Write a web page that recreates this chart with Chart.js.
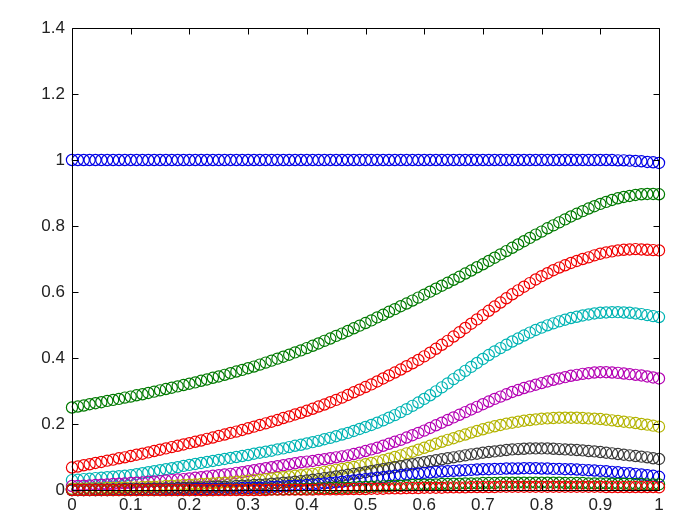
<!DOCTYPE html>
<html>
<head>
<meta charset="utf-8">
<script src="https://cdn.jsdelivr.net/npm/chart.js@4/dist/chart.umd.min.js"></script>
<style>
  html, body { margin: 0; padding: 0; background: #fff; }
  canvas { display: block; }
</style>
</head>
<body>
<canvas id="plot" width="687" height="515"></canvas>
<script>
const xs = [
  0, 0.01, 0.02, 0.03, 0.04, 0.05, 0.06, 0.07, 0.08, 0.09,
  0.1, 0.11, 0.12, 0.13, 0.14, 0.15, 0.16, 0.17, 0.18, 0.19,
  0.2, 0.21, 0.22, 0.23, 0.24, 0.25, 0.26, 0.27, 0.28, 0.29,
  0.3, 0.31, 0.32, 0.33, 0.34, 0.35, 0.36, 0.37, 0.38, 0.39,
  0.4, 0.41, 0.42, 0.43, 0.44, 0.45, 0.46, 0.47, 0.48, 0.49,
  0.5, 0.51, 0.52, 0.53, 0.54, 0.55, 0.56, 0.57, 0.58, 0.59,
  0.6, 0.61, 0.62, 0.63, 0.64, 0.65, 0.66, 0.67, 0.68, 0.69,
  0.7, 0.71, 0.72, 0.73, 0.74, 0.75, 0.76, 0.77, 0.78, 0.79,
  0.8, 0.81, 0.82, 0.83, 0.84, 0.85, 0.86, 0.87, 0.88, 0.89,
  0.9, 0.91, 0.92, 0.93, 0.94, 0.95, 0.96, 0.97, 0.98, 0.99,
  1
];

const yBlue1 = [
  1, 1, 1, 1, 1, 1, 1, 1, 1, 1,
  1, 1, 1, 1, 1, 1, 1, 1, 1, 1,
  1, 1, 1, 1, 1, 1, 1, 1, 1, 1,
  1, 1, 1, 1, 1, 1, 1, 1, 1, 1,
  1, 1, 1, 1, 1, 1, 1, 1, 1, 1,
  1, 1, 1, 1, 1, 1, 1, 1, 1, 1,
  1, 1, 1, 1, 1, 1, 1, 1, 1, 1,
  1, 1, 1, 1, 1, 1, 1, 1, 1, 1,
  1, 1, 1, 1, 1, 1, 1, 1, 1, 1,
  1, 1, 1, 0.999, 0.999, 0.998, 0.997, 0.996, 0.994, 0.993,
  0.991
];

const yGreen2 = [
  .250, .253, .256, .260, .263, .266, .270, .273, .276, .280,
  .283, .287, .290, .294, .298, .302, .306, .310, .314, .318,
  .322, .326, .331, .335, .340, .344, .349, .354, .359, .364,
  .369, .374, .380, .386, .392, .398, .404, .410, .417, .423,
  .430, .437, .444, .452, .459, .467, .474, .482, .490, .498,
  .506, .514, .523, .531, .540, .548, .557, .565, .574, .583,
  .592, .601, .610, .619, .628, .637, .646, .656, .665, .675,
  .684, .694, .704, .714, .724, .734, .744, .754, .764, .774,
  .783, .793, .802, .811, .820, .829, .837, .845, .853, .860,
  .867, .873, .879, .884, .888, .891, .894, .896, .897, .897,
  .896
];

const yRed3 = [
  .068, .071, .075, .078, .082, .085, .089, .092, .096, .099,
  .103, .107, .110, .114, .118, .122, .126, .130, .134, .138,
  .142, .146, .150, .155, .159, .164, .168, .173, .177, .182,
  .187, .192, .197, .202, .207, .212, .218, .223, .229, .234,
  .240, .246, .253, .259, .266, .273, .280, .288, .296, .304,
  .312, .320, .329, .338, .347, .356, .365, .375, .384, .394,
  .405, .416, .428, .440, .452, .465, .478, .491, .504, .517,
  .530, .543, .556, .568, .581, .593, .605, .616, .627, .638,
  .648, .657, .666, .674, .681, .688, .694, .700, .705, .711,
  .716, .720, .723, .726, .728, .729, .730, .729, .728, .727,
  .726
];

const yCyan4 = [
  .030, .031, .033, .034, .036, .037, .039, .040, .042, .043,
  .045, .048, .051, .054, .057, .060, .063, .066, .069, .073,
  .076, .079, .082, .085, .088, .091, .094, .097, .100, .103,
  .106, .110, .113, .116, .119, .123, .126, .130, .134, .137,
  .141, .145, .149, .154, .158, .163, .168, .173, .179, .185,
  .191, .197, .204, .211, .219, .227, .236, .245, .255, .265,
  .276, .287, .299, .311, .323, .336, .348, .361, .373, .385,
  .397, .409, .420, .430, .440, .450, .459, .468, .477, .485,
  .492, .499, .505, .511, .516, .521, .525, .529, .532, .535,
  .537, .538, .539, .539, .538, .537, .535, .533, .530, .527,
  .524
];

const yMagenta5 = [
  .012, .012, .013, .014, .015, .016, .017, .018, .019, .020,
  .021, .022, .023, .025, .026, .027, .029, .030, .032, .033,
  .035, .037, .039, .041, .043, .045, .047, .049, .052, .054,
  .057, .060, .063, .066, .069, .072, .075, .078, .081, .084,
  .086, .088, .091, .093, .096, .099, .102, .105, .109, .113,
  .118, .123, .128, .134, .140, .146, .152, .159, .166, .173,
  .180, .188, .196, .204, .212, .220, .228, .236, .244, .252,
  .260, .268, .276, .283, .290, .297, .303, .309, .314, .319,
  .324, .329, .334, .338, .342, .346, .349, .352, .354, .356,
  .357, .357, .356, .355, .353, .351, .349, .347, .344, .341,
  .338
];

const yYellow6 = [
  .004, .004, .004, .005, .005, .005, .006, .006, .007, .007,
  .008, .008, .009, .010, .010, .011, .012, .013, .014, .015,
  .016, .017, .018, .019, .020, .021, .022, .023, .025, .026,
  .028, .030, .031, .033, .035, .037, .039, .041, .043, .045,
  .047, .049, .052, .055, .058, .061, .064, .067, .070, .074,
  .078, .082, .086, .090, .095, .100, .105, .111, .116, .122,
  .128, .134, .140, .146, .152, .157, .163, .168, .174, .179,
  .184, .189, .193, .197, .201, .204, .207, .210, .212, .214,
  .216, .217, .218, .219, .219, .219, .219, .218, .217, .216,
  .215, .213, .211, .209, .207, .205, .203, .200, .198, .195,
  .192
];

const yBlack7 = [
  .001, .001, .001, .001, .002, .002, .002, .002, .002, .003,
  .003, .003, .003, .004, .004, .004, .005, .005, .006, .006,
  .007, .007, .008, .008, .009, .010, .010, .011, .012, .013,
  .014, .015, .016, .017, .019, .020, .022, .023, .025, .027,
  .029, .031, .033, .036, .038, .041, .043, .046, .049, .051,
  .054, .057, .060, .063, .066, .069, .072, .075, .078, .081,
  .084, .087, .090, .093, .096, .099, .102, .105, .108, .110,
  .113, .115, .117, .119, .121, .123, .124, .125, .126, .126,
  .126, .126, .125, .124, .123, .122, .121, .120, .118, .117,
  .115, .113, .111, .109, .107, .105, .103, .101, .099, .096,
  .094
];

const yBlue8 = [
  0, 0, 0, 0, 0, 0, 0, .001, .001, .001,
  .001, .001, .001, .001, .001, .001, .002, .002, .002, .002,
  .002, .003, .003, .003, .004, .004, .004, .005, .005, .006,
  .006, .007, .007, .008, .009, .010, .011, .012, .013, .014,
  .015, .017, .018, .020, .021, .023, .025, .027, .029, .031,
  .033, .035, .037, .039, .041, .043, .045, .047, .049, .050,
  .052, .053, .055, .056, .057, .058, .059, .060, .061, .062,
  .063, .063, .064, .064, .065, .065, .065, .066, .066, .066,
  .065, .065, .064, .064, .063, .063, .062, .061, .060, .059,
  .058, .057, .055, .054, .052, .051, .049, .047, .045, .043,
  .040
];

const yGreen9 = [
  0, 0, 0, 0, 0, 0, 0, 0, 0, 0,
  0, 0, 0, 0, 0, 0, 0, 0, 0, 0,
  0, 0, 0, 0, 0, .001, .001, .001, .001, .001,
  .001, .001, .001, .002, .002, .002, .002, .003, .003, .003,
  .004, .004, .005, .005, .006, .006, .007, .007, .008, .009,
  .009, .010, .011, .011, .012, .013, .013, .014, .015, .015,
  .016, .016, .017, .018, .018, .019, .019, .020, .020, .020,
  .021, .021, .021, .022, .022, .022, .022, .022, .022, .022,
  .022, .022, .022, .022, .021, .021, .021, .021, .020, .020,
  .020, .020, .019, .019, .019, .018, .018, .018, .017, .017,
  .017
];

const yRed10 = [
  0, 0, 0, 0, 0, 0, 0, 0, 0, 0,
  0, 0, 0, 0, 0, 0, 0, 0, 0, 0,
  0, 0, 0, 0, 0, 0, 0, 0, 0, 0,
  0, 0, 0, 0, .001, .001, .001, .001, .001, .001,
  .001, .001, .002, .002, .002, .002, .002, .003, .003, .003,
  .003, .004, .004, .004, .005, .005, .005, .006, .006, .006,
  .007, .007, .007, .007, .008, .008, .008, .008, .009, .009,
  .009, .009, .009, .010, .010, .010, .010, .010, .010, .010,
  .010, .010, .010, .010, .010, .010, .010, .010, .010, .010,
  .010, .009, .009, .009, .009, .009, .009, .009, .009, .009,
  .008
];

const xTicks = [0, 0.1, 0.2, 0.3, 0.4, 0.5, 0.6, 0.7, 0.8, 0.9, 1];
const yTicks = [0, 0.2, 0.4, 0.6, 0.8, 1, 1.2, 1.4];

const series = [yBlue1, yGreen2, yRed3, yCyan4, yMagenta5, yYellow6, yBlack7, yBlue8, yGreen9, yRed10];
// b g r c m y k order, repeating
const colors = ['#0000e6', '#007a00', '#f00000', '#00b4b4', '#b400b4', '#b4b400', '#3a3a3a'];

const datasets = series.map((ys, i) => ({
    data: xs.map((x, j) => ({ x: x, y: ys[j] })),
    showLine: false,
    pointStyle: 'circle',
    pointRadius: 5.6,
    pointBorderWidth: 1.2,
    pointBorderColor: colors[i % colors.length],
    pointBackgroundColor: 'rgba(0,0,0,0)',
    clip: false,
    order: -i
}));

// axes box with inward ticks on all four sides, drawn over the markers
const boxPlugin = {
    id: 'box',
    afterDatasetsDraw(chart) {
        const { ctx, chartArea: a, scales } = chart;
        const L = Math.round(a.left) + 0.5, R = Math.round(a.right) + 0.5;
        const T = Math.round(a.top) + 0.5, B = Math.round(a.bottom) + 0.5;
        const len = 6;
        ctx.save();
        ctx.strokeStyle = '#000';
        ctx.lineWidth = 1;
        ctx.beginPath();
        ctx.rect(L, T, R - L, B - T);
        xTicks.forEach(v => {
            const px = Math.round(scales.x.getPixelForValue(v)) + 0.5;
            ctx.moveTo(px, B); ctx.lineTo(px, B - len);
            ctx.moveTo(px, T); ctx.lineTo(px, T + len);
        });
        yTicks.forEach(v => {
            const py = Math.round(scales.y.getPixelForValue(v)) + 0.5;
            ctx.moveTo(L, py); ctx.lineTo(L + len, py);
            ctx.moveTo(R, py); ctx.lineTo(R - len, py);
        });
        ctx.stroke();
        ctx.restore();
    }
};

const tickFont = { family: "'Liberation Sans', Arial, sans-serif", size: 17 };
const fmt = v => String(+v.toFixed(2));

new Chart(document.getElementById('plot'), {
    type: 'scatter',
    data: { datasets },
    plugins: [boxPlugin],
    options: {
        responsive: false,
        animation: false,
        layout: { padding: { left: 0, right: 28, top: 28, bottom: 0 } },
        plugins: {
            legend: { display: false },
            tooltip: { enabled: false }
        },
        scales: {
            x: {
                type: 'linear',
                min: 0,
                max: 1,
                border: { display: false },
                grid: { display: false, drawTicks: false },
                afterBuildTicks: s => { s.ticks = xTicks.map(v => ({ value: v })); },
                afterFit: s => { s.height = 25; },
                ticks: { color: '#222', font: tickFont, padding: 5, maxRotation: 0, autoSkip: false, callback: fmt }
            },
            y: {
                type: 'linear',
                min: 0,
                max: 1.4,
                border: { display: false },
                grid: { display: false, drawTicks: false },
                afterBuildTicks: s => { s.ticks = yTicks.map(v => ({ value: v })); },
                afterFit: s => { s.width = 72; },
                ticks: { color: '#222', font: tickFont, padding: 7, autoSkip: false, callback: fmt }
            }
        }
    }
});
</script>
</body>
</html>
